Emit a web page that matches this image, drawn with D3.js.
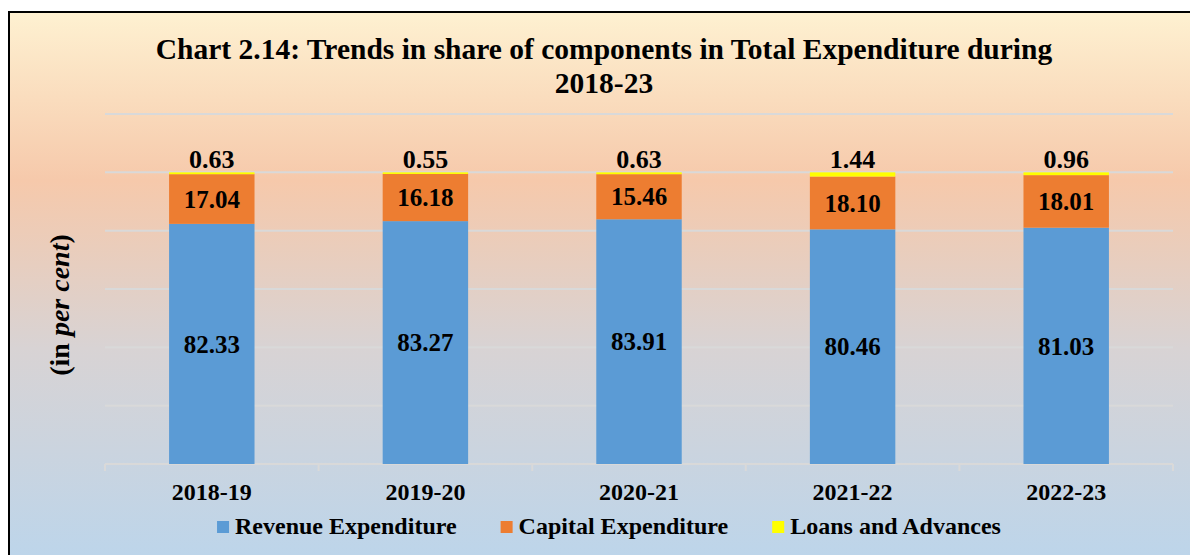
<!DOCTYPE html>
<html>
<head>
<meta charset="utf-8">
<script src="https://cdn.jsdelivr.net/npm/d3@7"></script>
<style>
  html, body { margin: 0; padding: 0; background: #ffffff; }
  svg { display: block; }
  text { font-family: "Liberation Serif", "Times New Roman", serif; font-weight: bold; fill: #000; }
</style>
</head>
<body>
<svg id="chart" width="1190" height="555"></svg>
<script>
const categories = ["2018-19", "2019-20", "2020-21", "2021-22", "2022-23"];
const revenueExpenditure = [82.33, 83.27, 83.91, 80.46, 81.03];
const capitalExpenditure = [17.04, 16.18, 15.46, 18.10, 18.01];
const loansAndAdvances = [0.63, 0.55, 0.63, 1.44, 0.96];
const seriesNames = ["Revenue Expenditure", "Capital Expenditure", "Loans and Advances"];
const seriesColors = ["#5b9bd5", "#ed7d31", "#ffff00"];
const yTicks = [0, 20, 40, 60, 80, 100, 120];
const titleLines = ["Chart 2.14: Trends in share of components in Total Expenditure during", "2018-23"];

const svg = d3.select("#chart");

// background gradient
const defs = svg.append("defs");
const grad = defs.append("linearGradient")
  .attr("id", "bg").attr("gradientUnits", "userSpaceOnUse")
  .attr("x1", 0).attr("y1", 12).attr("x2", 0).attr("y2", 555);
grad.append("stop").attr("offset", 0).attr("stop-color", "#fef1d1");
grad.append("stop").attr("offset", 0.31).attr("stop-color", "#f6c9ab");
grad.append("stop").attr("offset", 0.62).attr("stop-color", "#d8d3d4");
grad.append("stop").attr("offset", 1).attr("stop-color", "#bdd5ea");

svg.append("rect")
  .attr("x", 9).attr("y", 12).attr("width", 1200).attr("height", 600)
  .attr("fill", "url(#bg)").attr("stroke", "#000").attr("stroke-width", 2);

// scales
const x = d3.scaleBand().domain(categories).range([105, 1173]).paddingInner(0.6).paddingOuter(0.3);
const y = d3.scaleLinear().domain([0, 120]).range([464, 114]);

// gridlines
svg.append("g").selectAll("line")
  .data(yTicks.filter(t => t > 0))
  .join("line")
  .attr("x1", 105).attr("x2", 1173)
  .attr("y1", d => y(d)).attr("y2", d => y(d))
  .attr("stroke", "#d9d9d9").attr("stroke-width", 2);

// x axis line and boundary ticks
const axisG = svg.append("g");
axisG.append("line")
  .attr("x1", 105).attr("x2", 1173).attr("y1", y(0)).attr("y2", y(0))
  .attr("stroke", "#d9d9d9").attr("stroke-width", 2);
const step = x.step();
const boundaries = d3.range(categories.length + 1).map(i => x.range()[0] + i * step);
axisG.selectAll("line.tick")
  .data(boundaries)
  .join("line").attr("class", "tick")
  .attr("x1", d => d).attr("x2", d => d)
  .attr("y1", y(0)).attr("y2", y(0) + 7)
  .attr("stroke", "#d9d9d9").attr("stroke-width", 2);

// category labels
svg.append("g").selectAll("text")
  .data(categories)
  .join("text")
  .attr("x", d => x(d) + x.bandwidth() / 2)
  .attr("y", 500)
  .attr("text-anchor", "middle")
  .attr("font-size", 24)
  .text(d => d);

// stacked data
const rows = categories.map((c, i) => ({
  cat: c,
  "Revenue Expenditure": revenueExpenditure[i],
  "Capital Expenditure": capitalExpenditure[i],
  "Loans and Advances": loansAndAdvances[i]
}));
const stack = d3.stack().keys(seriesNames)(rows);

const layers = svg.append("g").selectAll("g")
  .data(stack)
  .join("g")
  .attr("fill", (d, i) => seriesColors[i]);

layers.selectAll("rect")
  .data(d => d)
  .join("rect")
  .attr("x", d => x(d.data.cat))
  .attr("width", x.bandwidth())
  .attr("y", d => y(d[1]))
  .attr("height", d => y(d[0]) - y(d[1]));

// labels
const labelsG = svg.append("g");
stack.forEach((layer, li) => {
  if (li < 2) {
    labelsG.append("g").selectAll("text")
      .data(layer)
      .join("text")
      .attr("x", d => x(d.data.cat) + x.bandwidth() / 2)
      .attr("y", d => (y(d[0]) + y(d[1])) / 2)
      .attr("dy", "0.35em")
      .attr("text-anchor", "middle")
      .attr("font-size", 25)
      .text((d, i) => (li === 0 ? revenueExpenditure[i] : capitalExpenditure[i]).toFixed(2));
  } else {
    labelsG.append("g").selectAll("text")
      .data(layer)
      .join("text")
      .attr("x", d => x(d.data.cat) + x.bandwidth() / 2)
      .attr("y", d => y(d[1]) - 4)
      .attr("text-anchor", "middle")
      .attr("font-size", 26)
      .text((d, i) => loansAndAdvances[i].toFixed(2));
  }
});

// title
svg.append("g").selectAll("text")
  .data(titleLines)
  .join("text")
  .attr("x", 604)
  .attr("y", (d, i) => 59 + i * 33.5)
  .attr("text-anchor", "middle")
  .attr("font-size", 29.5)
  .text(d => d);

// y axis title
const yt = svg.append("text")
  .attr("transform", "translate(69,305) rotate(-90)")
  .attr("text-anchor", "middle")
  .attr("font-size", 28);
yt.append("tspan").text("(in ");
yt.append("tspan").attr("font-style", "italic").text("per cent");
yt.append("tspan").text(")");

// legend
const legend = svg.append("g");
const items = legend.selectAll("g")
  .data(seriesNames)
  .join("g");
items.append("rect")
  .attr("width", 12).attr("height", 12)
  .attr("y", 521)
  .attr("fill", (d, i) => seriesColors[i]);
items.append("text")
  .attr("y", 534)
  .attr("font-size", 24)
  .text(d => d);
let widths = [];
items.each(function() { widths.push(d3.select(this).select("text").node().getComputedTextLength()); });
const gapSq = 6, gapItem = 44;
const total = d3.sum(widths) + seriesNames.length * (12 + gapSq) + (seriesNames.length - 1) * gapItem;
let cx = 609 - total / 2;
items.each(function(d, i) {
  const g = d3.select(this);
  g.select("rect").attr("x", cx);
  g.select("text").attr("x", cx + 12 + gapSq);
  cx += 12 + gapSq + widths[i] + gapItem;
});
</script>
</body>
</html>
